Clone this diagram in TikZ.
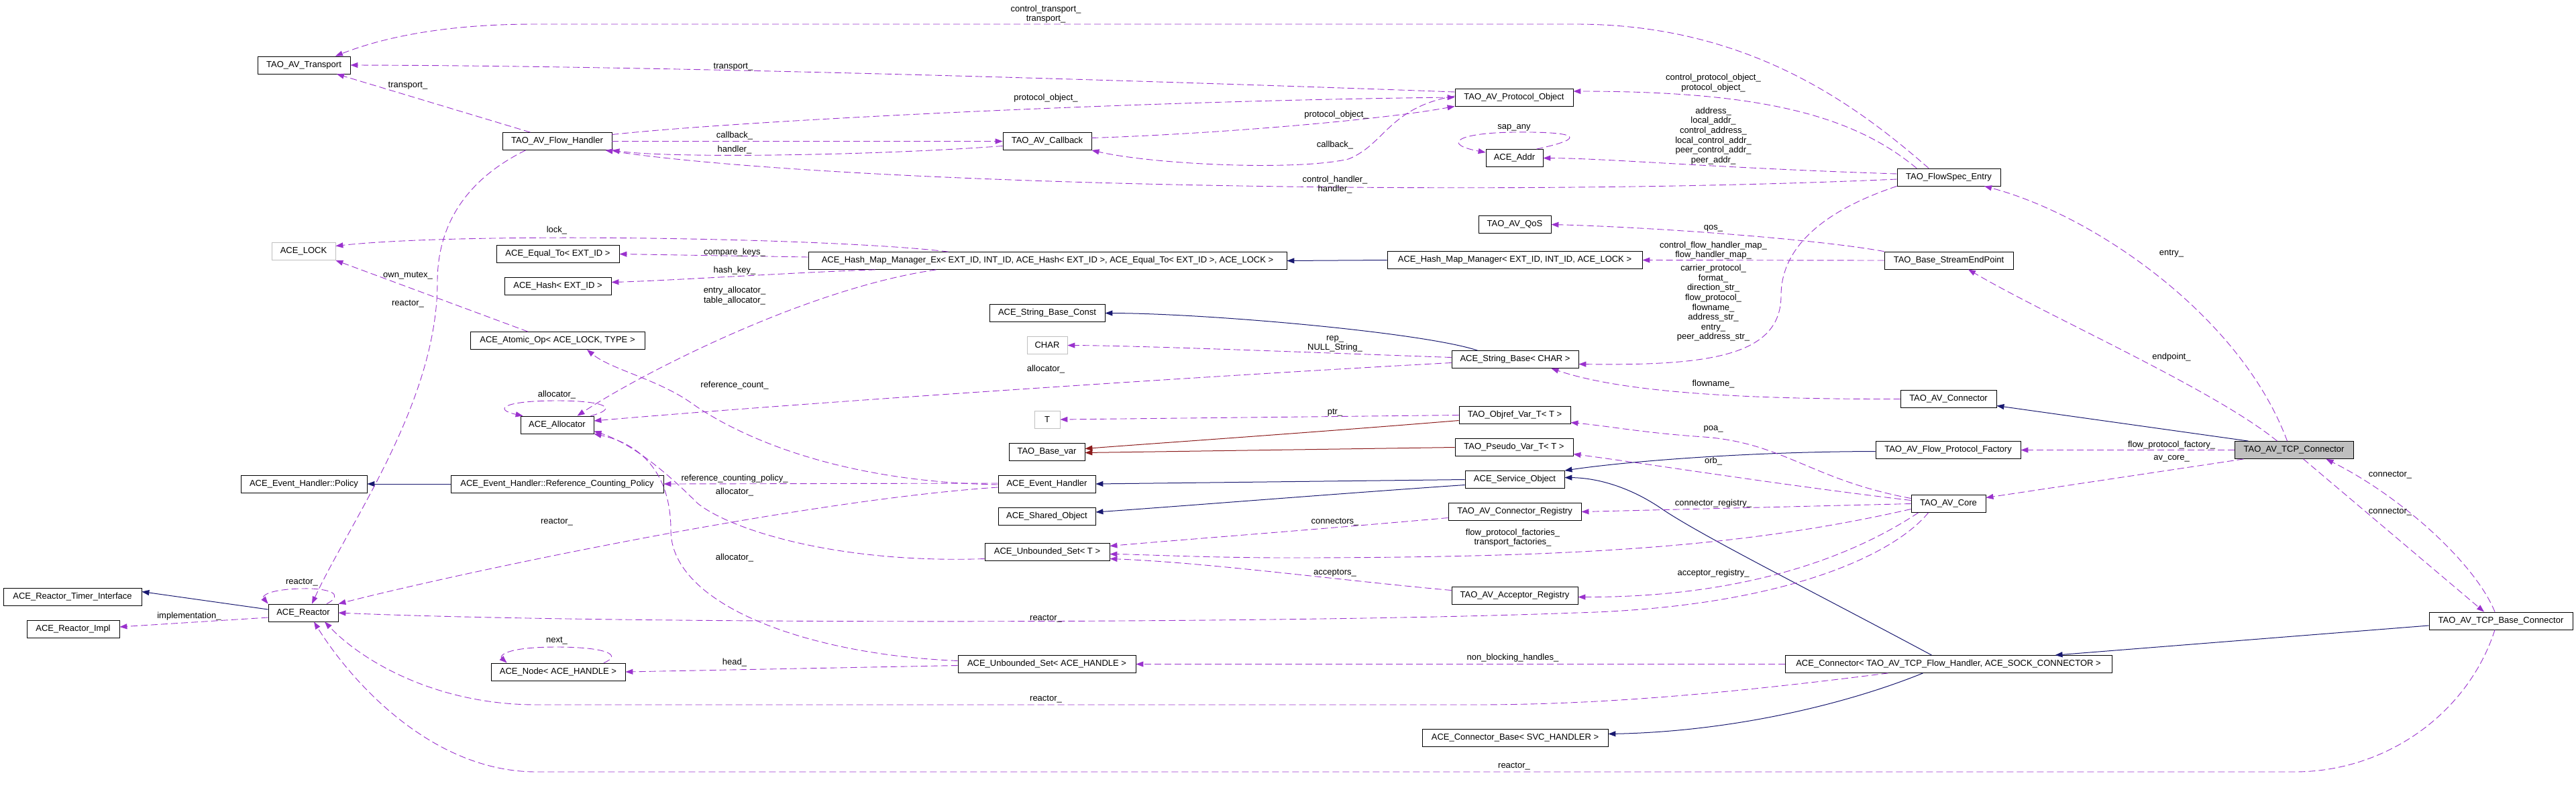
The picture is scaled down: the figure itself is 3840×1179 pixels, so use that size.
\documentclass[tikz,border=0pt]{standalone}
\usepackage{fontspec}
\setmainfont{Liberation Sans}
\usepackage{tikz}
\usetikzlibrary{arrows.meta}
\usepackage{xcolor}
\definecolor{mempurple}{HTML}{9A32CD}
\definecolor{inhblue}{HTML}{191970}
\definecolor{protred}{HTML}{8B1A1A}
\definecolor{undoc}{HTML}{BFBFBF}

\begin{document}
\begin{tikzpicture}[x=1pt,y=-1pt,
  cls/.style={draw=black, line width=0.8pt, rectangle, minimum height=26, inner xsep=4pt, inner ysep=0pt, font=\fontsize{13}{14.6}\selectfont},
  ucls/.style={cls, draw=undoc},
  lbl/.style={inner sep=0pt, align=center, font=\fontsize{13}{14.6}\selectfont},
  member/.style={draw=mempurple, line width=0.9pt, dash pattern=on 10pt off 5pt, -{Triangle[length=11pt,width=8pt]}},
  inherit/.style={draw=inhblue, line width=1pt, -{Triangle[length=11pt,width=8pt]}},
  protinh/.style={draw=protred, line width=1pt, -{Triangle[length=11pt,width=8pt]}}]
\useasboundingbox (0,0) rectangle (3840,1179);

% classes
\node[cls, fill=undoc, minimum width=177] (tcpconn) at (3419.5,670.5) {TAO\_AV\_TCP\_Connector};
\node[cls, minimum width=143] (avconn) at (2904.5,594.5) {TAO\_AV\_Connector};
\node[cls, minimum width=154] (flowspec) at (2905,264) {TAO\_FlowSpec\_Entry};
\node[cls, minimum width=192] (streamep) at (2905,388) {TAO\_Base\_StreamEndPoint};
\node[cls, minimum width=216] (fpfactory) at (2904,670.5) {TAO\_AV\_Flow\_Protocol\_Factory};
\node[cls, minimum width=111] (avcore) at (2904.5,750.5) {TAO\_AV\_Core};
\node[cls, minimum width=214] (tcpbase) at (3728,925) {TAO\_AV\_TCP\_Base\_Connector};
\node[cls, minimum width=487] (aceconn) at (2904.5,989.5) {ACE\_Connector< TAO\_AV\_TCP\_Flow\_Handler, ACE\_SOCK\_CONNECTOR >};
\node[cls, minimum width=277] (connbase) at (2258.5,1099.5) {ACE\_Connector\_Base< SVC\_HANDLER >};
\node[cls, minimum width=188] (acceptreg) at (2258,887.5) {TAO\_AV\_Acceptor\_Registry};
\node[cls, minimum width=198] (connreg) at (2258,762.5) {TAO\_AV\_Connector\_Registry};
\node[cls, minimum width=148] (svcobj) at (2258,714.5) {ACE\_Service\_Object};
\node[cls, minimum width=176] (pseudo) at (2257,666.5) {TAO\_Pseudo\_Var\_T< T >};
\node[cls, minimum width=166] (objref) at (2258,618.5) {TAO\_Objref\_Var\_T< T >};
\node[cls, minimum width=189] (strbase) at (2258.5,535.5) {ACE\_String\_Base< CHAR >};
\node[cls, minimum width=380] (hmm) at (2258,387.5) {ACE\_Hash\_Map\_Manager< EXT\_ID, INT\_ID, ACE\_LOCK >};
\node[cls, minimum width=108] (qos) at (2258,334.5) {TAO\_AV\_QoS};
\node[cls, minimum width=85] (addr) at (2257.5,235.5) {ACE\_Addr};
\node[cls, minimum width=176] (protobj) at (2257,145) {TAO\_AV\_Protocol\_Object};
\node[cls, minimum width=132] (callback) at (1561,210.5) {TAO\_AV\_Callback};
\node[cls, minimum width=713] (hmmex) at (1561.5,388.5) {ACE\_Hash\_Map\_Manager\_Ex< EXT\_ID, INT\_ID, ACE\_Hash< EXT\_ID >, ACE\_Equal\_To< EXT\_ID >, ACE\_LOCK >};
\node[cls, minimum width=172] (strconst) at (1561,466.5) {ACE\_String\_Base\_Const};
\node[ucls, minimum width=60] (charn) at (1561,514.5) {CHAR};
\node[ucls, minimum width=38] (tnode) at (1561,625) {T};
\node[cls, minimum width=113] (basevar) at (1560.5,673.5) {TAO\_Base\_var};
\node[cls, minimum width=145] (evh) at (1560.5,721) {ACE\_Event\_Handler};
\node[cls, minimum width=145] (shared) at (1560.5,769) {ACE\_Shared\_Object};
\node[cls, minimum width=186] (uset) at (1561,822.5) {ACE\_Unbounded\_Set< T >};
\node[cls, minimum width=265] (usethandle) at (1560.5,989.5) {ACE\_Unbounded\_Set< ACE\_HANDLE >};
\node[cls, minimum width=163] (flowh) at (830.5,210.5) {TAO\_AV\_Flow\_Handler};
\node[cls, minimum width=138] (transport) at (453,97) {TAO\_AV\_Transport};
\node[ucls, minimum width=95] (lock) at (452.5,374.5) {ACE\_LOCK};
\node[cls, minimum width=183] (equalto) at (831.5,378.5) {ACE\_Equal\_To< EXT\_ID >};
\node[cls, minimum width=159] (hash) at (831.5,426.5) {ACE\_Hash< EXT\_ID >};
\node[cls, minimum width=260] (atomic) at (831,507.5) {ACE\_Atomic\_Op< ACE\_LOCK, TYPE >};
\node[cls, minimum width=109] (alloc) at (830.5,633) {ACE\_Allocator};
\node[cls, minimum width=188] (policy) at (453,721) {ACE\_Event\_Handler::Policy};
\node[cls, minimum width=317] (refpolicy) at (830.5,721) {ACE\_Event\_Handler::Reference\_Counting\_Policy};
\node[cls, minimum width=104] (reactor) at (452,913) {ACE\_Reactor};
\node[cls, minimum width=206] (timer) at (108,889.5) {ACE\_Reactor\_Timer\_Interface};
\node[cls, minimum width=138] (impl) at (109,937) {ACE\_Reactor\_Impl};
\node[cls, minimum width=200] (acenode) at (832,1001) {ACE\_Node< ACE\_HANDLE >};

% inheritance
\draw[inherit] ([xshift=-68]tcpconn.north) -- ([yshift=-10]avconn.east);
\draw[inherit] ([yshift=-2]fpfactory.west) .. controls (2600,673) and (2420,688) .. (svcobj.north east);
\draw[inherit] ([xshift=-25]aceconn.north) .. controls (2700,880) and (2540,800) .. (2480,760) .. controls (2430,725) and (2380,712) .. ([yshift=3]svcobj.east);
\draw[inherit] ([xshift=-38]aceconn.south) .. controls (2750,1050) and (2580,1090) .. ([yshift=6]connbase.east);
\draw[inherit] ([yshift=-7]tcpbase.west) -- ([xshift=159]aceconn.north);
\draw[inherit] (svcobj.west) -- (evh.east);
\draw[inherit] ([yshift=-8]svcobj.west) .. controls (2000,735) and (1750,755) .. ([yshift=6]shared.east);
\draw[inherit] ([xshift=-56]strbase.north) .. controls (2120,495) and (1800,467) .. (strconst.east);
\draw[inherit] (refpolicy.west) -- (policy.east);
\draw[inherit] ([yshift=5]reactor.west) -- ([yshift=8]timer.east);
\draw[inherit] (hmm.west) -- (hmmex.east);
\draw[protinh] ([yshift=-8]objref.west) .. controls (1950,645) and (1700,662) .. ([yshift=5]basevar.east);
\draw[protinh] (pseudo.west) -- ([yshift=-1]basevar.east);

% members
\draw[member] ([xshift=-40]flowh.north) -- ([xshift=49]transport.south);
\draw[member] ([yshift=8]protobj.west) .. controls (1700,120) and (1000,98) .. (transport.east);
\draw[member] ([xshift=-30]flowspec.north) .. controls (2760,150) and (2600,36) .. (2349,36) -- (796,36) .. controls (650,36) and (560,60) .. ([xshift=47]transport.north);
\draw[member] ([yshift=10]flowh.east) .. controls (1100,180) and (1700,150) .. (protobj.west);
\draw[member] (flowh.east) -- (callback.west);
\draw[member] ([yshift=-7]callback.west) .. controls (1300,232) and (1000,236) .. (flowh.south east);
\draw[member] ([yshift=-3]flowspec.west) .. controls (2200,295) and (1250,275) .. ([xshift=-10]flowh.south east);
\draw[member] ([yshift=2]protobj.west) .. controls (2070,160) and (2065,215) .. (2010,237) .. controls (1930,255) and (1720,245) .. (callback.south east);
\draw[member] ([yshift=5]callback.east) .. controls (1800,200) and (2050,180) .. (protobj.south west);
\draw[member] ([xshift=-48]flowspec.north) .. controls (2760,170) and (2620,136) .. ([yshift=9]protobj.east);
\draw[member] ([yshift=5]flowspec.west) .. controls (2550,250) and (2400,236) .. (addr.east);
\draw[member] ([xshift=33]addr.north) .. controls (2370,205) and (2350,196) .. (2257,197) .. controls (2170,198) and (2150,215) .. ([yshift=-5]addr.north west);
\draw[member] (streamep.north west) .. controls (2700,355) and (2450,338) .. (qos.east);
\draw[member] (streamep.west) -- (hmm.east);
\draw[member] (flowspec.south west) .. controls (2700,320) and (2655,380) .. (2655,440) .. controls (2655,530) and (2550,545) .. ([yshift=-7]strbase.east);
\draw[member] (avconn.west) .. controls (2600,595) and (2420,585) .. ([xshift=-41]strbase.south east);
\draw[member] ([yshift=3]strbase.west) .. controls (1950,525) and (1700,515) .. (charn.east);
\draw[member] ([yshift=-5]strbase.west) .. controls (1800,560) and (1200,600) .. ([yshift=6]alloc.east);
\draw[member] (objref.west) -- (tnode.east);
\draw[member] ([yshift=8]avcore.west) .. controls (2700,715) and (2660,660) .. (2540,651) .. controls (2450,645) and (2400,635) .. ([yshift=-11]objref.east);
\draw[member] ([yshift=5]avcore.west) .. controls (2650,722) and (2450,690) .. ([yshift=-10]pseudo.east);
\draw[member] (avcore.west) -- (connreg.east);
\draw[member] ([xshift=-45]avcore.south) .. controls (2760,830) and (2600,890) .. ([yshift=-2]acceptreg.east);
\draw[member] ([yshift=-8]avcore.west) .. controls (2600,815) and (2350,831) .. (1920,831) .. controls (1800,831) and (1700,826) .. ([yshift=-3]uset.east);
\draw[member] ([xshift=-30]avcore.south) .. controls (2820,830) and (2650,905) .. (2350,913) .. controls (1900,930) and (900,930) .. (reactor.east);
\draw[member] ([xshift=-75]tcpconn.south) -- ([yshift=9]avcore.east);
\draw[member] (tcpconn.west) -- (fpfactory.east);
\draw[member] ([xshift=-10]tcpconn.north) .. controls (3340,470) and (3120,320) .. ([xshift=53]flowspec.south);
\draw[member] ([xshift=-25]tcpconn.north) .. controls (3300,580) and (3050,470) .. ([xshift=29]streamep.south);
\draw[member] ([xshift=14]tcpconn.south) -- ([xshift=-25]tcpbase.north);
\draw[member] ([xshift=-9]tcpbase.north) .. controls (3690,840) and (3580,740) .. ([xshift=48]tcpconn.south);
\draw[member] ([xshift=-9]tcpbase.south) .. controls (3680,1060) and (3560,1150) .. (3420,1150) -- (800,1150) .. controls (640,1150) and (520,1010) .. ([xshift=16]reactor.south);
\draw[member] ([xshift=-90]aceconn.south) .. controls (2600,1030) and (2400,1050) .. (2200,1050) -- (800,1050) .. controls (650,1050) and (540,985) .. ([xshift=32]reactor.south);
\draw[member] (aceconn.west) -- (usethandle.east);
\draw[member] ([yshift=-9]connreg.west) .. controls (1950,790) and (1750,805) .. ([yshift=9]uset.east);
\draw[member] ([yshift=8]acceptreg.west) .. controls (2000,865) and (1800,838) .. ([yshift=-10]uset.east);
\draw[member] ([yshift=-2]usethandle.west) -- (acenode.east);
\draw[member] ([xshift=68]acenode.north) .. controls (930,975) and (900,964) .. (830,964) .. controls (750,964) and (745,978) .. ([xshift=24]acenode.north west);
\draw[member] ([yshift=5]usethandle.west) .. controls (1200,975) and (1000,900) .. (1000,790) .. controls (1000,700) and (950,660) .. (alloc.south east);
\draw[member] ([yshift=-10]uset.west) .. controls (1250,840) and (1090,790) .. (1040,750) .. controls (990,700) and (940,660) .. ([yshift=4]alloc.south east);
\draw[member] ([yshift=1]evh.west) -- (refpolicy.east);
\draw[member] ([yshift=-1]evh.west) .. controls (1250,718) and (1100,650) .. (1030,600) .. controls (980,565) and (910,550) .. ([xshift=44]atomic.south);
\draw[member] ([yshift=-5]evh.west) .. controls (1200,745) and (700,850) .. (reactor.north east);
\draw[member] ([xshift=-47]flowh.south) .. controls (690,270) and (652,340) .. (652,420) .. controls (652,600) and (520,780) .. ([xshift=13]reactor.north);
\draw[member] ([xshift=35]reactor.north) .. controls (515,885) and (490,876) .. (450,877) .. controls (400,878) and (390,888) .. (reactor.north west);
\draw[member] ([yshift=-7]reactor.west) -- ([yshift=3]impl.east);
\draw[member] ([xshift=50]alloc.north) .. controls (925,608) and (900,597) .. (830,597) .. controls (750,597) and (735,610) .. ([xshift=4]alloc.north west);
\draw[member] ([xshift=-166]hmmex.south) .. controls (1200,430) and (950,560) .. ([xshift=30]alloc.north);
\draw[member] ([xshift=-148]hmmex.north) .. controls (1250,355) and (700,345) .. ([yshift=8]lock.east);
\draw[member] ([yshift=5.5]hmmex.west) -- (equalto.east);
\draw[member] ([xshift=-257]hmmex.south) .. controls (1200,405) and (1000,418) .. ([yshift=6]hash.east);
\draw[member] ([xshift=-44]atomic.north) -- (lock.south east);

% labels
\node[lbl] (lTransport) at (608,128) {transport\_};
\node[lbl] (lCtrlTransport) at (1559,21) {control\_transport\_\\transport\_};
\node[lbl] (lPoTransport) at (1093,100) {transport\_};
\node[lbl] (lFhProto) at (1559,146) {protocol\_object\_};
\node[lbl] (lFhCallback) at (1095,202) {callback\_};
\node[lbl] (lCbHandler) at (1095,223) {handler\_};
\node[lbl] (lLock) at (830,343) {lock\_};
\node[lbl] (lCompare) at (1095,376) {compare\_keys\_};
\node[lbl] (lHashKey) at (1095,403) {hash\_key\_};
\node[lbl] (lMutex) at (608,411) {own\_mutex\_};
\node[lbl] (lFhReactor) at (608,453) {reactor\_};
\node[lbl] (lTableAlloc) at (1095,440.5) {entry\_allocator\_\\table\_allocator\_};
\node[lbl] (lCtrlProto) at (2554,123.5) {control\_protocol\_object\_\\protocol\_object\_};
\node[lbl] (lCbProto) at (1992,171) {protocol\_object\_};
\node[lbl] (lPoCallback) at (1990,216) {callback\_};
\node[lbl] (lSapAny) at (2257,190) {sap\_any};
\node[lbl] (lAddr) at (2554,202.5) {address\_\\local\_addr\_\\control\_address\_\\local\_control\_addr\_\\peer\_control\_addr\_\\peer\_addr\_};
\node[lbl] (lCtrlHandler) at (1990,275) {control\_handler\_\\handler\_};
\node[lbl] (lQos) at (2554,340) {qos\_};
\node[lbl] (lMap) at (2554,373) {control\_flow\_handler\_map\_\\flow\_handler\_map\_};
\node[lbl] (lStr) at (2554,451.5) {carrier\_protocol\_\\format\_\\direction\_str\_\\flow\_protocol\_\\flowname\_\\address\_str\_\\entry\_\\peer\_address\_str\_};
\node[lbl] (lEntry) at (3237,378) {entry\_};
\node[lbl] (lEndpoint) at (3237,532) {endpoint\_};
\node[lbl] (lRep) at (1990,512.5) {rep\_\\NULL\_String\_};
\node[lbl] (lStrAlloc) at (1559,550) {allocator\_};
\node[lbl] (lFlowname) at (2554,572) {flowname\_};
\node[lbl] (lRefCount) at (1095,574) {reference\_count\_};
\node[lbl] (lAllocSelf) at (830,588) {allocator\_};
\node[lbl] (lPtr) at (1990,615) {ptr\_};
\node[lbl] (lPoa) at (2554,639) {poa\_};
\node[lbl] (lOrb) at (2554,687) {orb\_};
\node[lbl] (lFpf) at (3237,663) {flow\_protocol\_factory\_};
\node[lbl] (lAvCore) at (3237,683) {av\_core\_};
\node[lbl] (lConnA) at (3563,708) {connector\_};
\node[lbl] (lRcPolicy) at (1095,713) {reference\_counting\_policy\_};
\node[lbl] (lEhAlloc) at (1095,733) {allocator\_};
\node[lbl] (lConnReg) at (2554,750) {connector\_registry\_};
\node[lbl] (lConnB) at (3563,763) {connector\_};
\node[lbl] (lEhReactor) at (830,778) {reactor\_};
\node[lbl] (lConnectors) at (1990,778) {connectors\_};
\node[lbl] (lFactories) at (2255,801) {flow\_protocol\_factories\_\\transport\_factories\_};
\node[lbl] (lUsetAlloc) at (1095,831) {allocator\_};
\node[lbl] (lAcceptors) at (1990,854) {acceptors\_};
\node[lbl] (lAccReg) at (2554,854) {acceptor\_registry\_};
\node[lbl] (lReactorSelf) at (450,868) {reactor\_};
\node[lbl] (lImpl) at (282,918) {implementation\_};
\node[lbl] (lCoreReactor) at (1559,922) {reactor\_};
\node[lbl] (lNext) at (830,955) {next\_};
\node[lbl] (lHead) at (1095,987) {head\_};
\node[lbl] (lNonBlock) at (2255,980) {non\_blocking\_handles\_};
\node[lbl] (lConnReactor) at (1559,1042) {reactor\_};
\node[lbl] (lBaseReactor) at (2257,1142) {reactor\_};
\end{tikzpicture}
\end{document}
